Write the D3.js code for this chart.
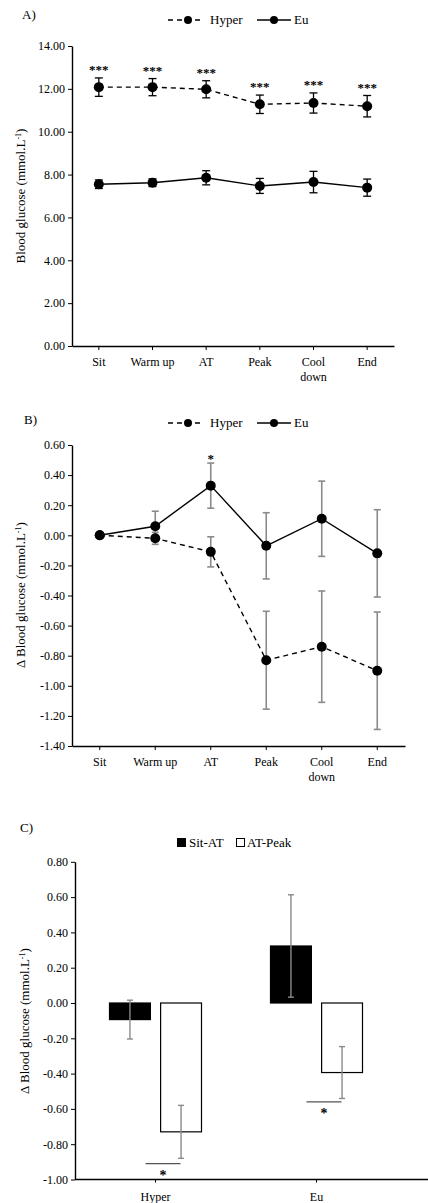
<!DOCTYPE html>
<html>
<head>
<meta charset="utf-8">
<script src="https://cdn.jsdelivr.net/npm/d3@7"></script>
<style>
body { margin: 0; background: #fff; }
svg { display: block; font-family: "Liberation Serif", "DejaVu Serif", serif; }
text { font-family: "Liberation Serif", "DejaVu Serif", serif; fill: #000; }
</style>
</head>
<body>
<div id="chart"></div>
<script>
// stages of the exercise test
var stages = ["Sit", "Warm up", "AT", "Peak", "Cool down", "End"];
var stageLines = [["Sit"], ["Warm up"], ["AT"], ["Peak"], ["Cool", "down"], ["End"]];

// A) blood glucose, mmol/L
var hyperA = [12.08, 12.08, 11.98, 11.28, 11.34, 11.19];
var hyperAErr = [0.43, 0.40, 0.40, 0.43, 0.47, 0.50];
var euA = [7.55, 7.62, 7.85, 7.47, 7.65, 7.39];
var euAErr = [0.20, 0.18, 0.33, 0.35, 0.50, 0.40];
var starsA = ["***", "***", "***", "***", "***", "***"];
var ticksA = [0, 2, 4, 6, 8, 10, 12, 14];

// B) change in blood glucose from sit
var hyperB = [0, -0.02, -0.11, -0.83, -0.74, -0.90];
var hyperBErr = [0, 0.04, 0.10, 0.325, 0.37, 0.39];
var euB = [0, 0.06, 0.33, -0.07, 0.11, -0.12];
var euBErr = [0, 0.10, 0.15, 0.22, 0.25, 0.29];
var starsB = ["", "", "*", "", "", ""];
var ticksB = [-1.4, -1.2, -1.0, -0.8, -0.6, -0.4, -0.2, 0, 0.2, 0.4, 0.6];

// C) change per phase
var groups = ["Hyper", "Eu"];
var phases = ["Sit-AT", "AT-Peak"];
var sitAT = [-0.094, 0.323];
var sitATErr = [0.11, 0.29];
var atPeak = [-0.73, -0.394];
var atPeakErr = [0.15, 0.147];
var sigLevelC = [-0.91, -0.56];
var ticksC = [-1.0, -0.8, -0.6, -0.4, -0.2, 0, 0.2, 0.4, 0.6, 0.8];

var W = 428, H = 1203;
var svg = d3.select("#chart").append("svg")
    .attr("width", W)
    .attr("height", H);

var fmt = function(d) { return d.toFixed(2); };

function yLabel(x, y, txt) {
    var t = svg.append("text")
        .attr("transform", "translate(" + x + "," + y + ") rotate(-90)")
        .attr("text-anchor", "middle")
        .attr("dy", "0.35em")
        .style("font-size", "13px");
    t.append("tspan").text(txt + " (mmol.L");
    t.append("tspan").attr("baseline-shift", "super").style("font-size", "8px").text("-1");
    t.append("tspan").text(")");
}

function lineLegend(y) {
    var g = svg.append("g");
    g.append("line").attr("x1", 168).attr("x2", 203).attr("y1", y).attr("y2", y)
        .attr("stroke", "#000").attr("stroke-width", 1.5).attr("stroke-dasharray", "5,4");
    g.append("circle").attr("cx", 188).attr("cy", y).attr("r", 4);
    g.append("text").attr("x", 210).attr("y", y + 4).style("font-size", "13px").text("Hyper");
    g.append("line").attr("x1", 257).attr("x2", 291).attr("y1", y).attr("y2", y)
        .attr("stroke", "#000").attr("stroke-width", 1.5);
    g.append("circle").attr("cx", 274).attr("cy", y).attr("r", 4);
    g.append("text").attr("x", 294).attr("y", y + 4).style("font-size", "13px").text("Eu");
}

function linePanel(p) {
    var x = d3.scaleBand().domain(stages).range([p.x0, p.x1]);
    var y = d3.scaleLinear().domain([p.ticks[0], p.ticks[p.ticks.length - 1]]).range([p.yb, p.yt]);
    var cx = function(i) { return x(stages[i]) + x.bandwidth() / 2; };

    // y axis
    var ya = svg.append("g")
        .attr("transform", "translate(" + p.x0 + ",0)")
        .call(d3.axisLeft(y).tickValues(p.ticks).tickFormat(fmt).tickSize(4).tickSizeOuter(0));
    ya.attr("font-family", null).attr("font-size", null);
    ya.selectAll("text").style("font-size", "12px");
    ya.select(".domain").attr("stroke-width", 1.4);

    // x axis
    var xa = svg.append("g")
        .attr("transform", "translate(0," + p.yb + ")")
        .call(d3.axisBottom(x).tickSize(4).tickSizeOuter(0).tickFormat(""));
    xa.select(".domain").attr("stroke-width", 1.4);
    stageLines.forEach(function(lines, i) {
        lines.forEach(function(s, k) {
            svg.append("text")
                .attr("x", cx(i))
                .attr("y", p.yb + 20 + k * 15)
                .attr("text-anchor", "middle")
                .style("font-size", "12px")
                .text(s);
        });
    });

    var series = [
        {v: p.hyper, e: p.hyperErr, dash: "5,4"},
        {v: p.eu, e: p.euErr, dash: null}
    ];

    // error bars first
    series.forEach(function(s) {
        var eb = svg.append("g").attr("stroke", p.errColor).attr("stroke-width", p.errWidth);
        s.v.forEach(function(v, i) {
            if (s.e[i] == 0) return;
            eb.append("line").attr("x1", cx(i)).attr("x2", cx(i))
                .attr("y1", y(v + s.e[i])).attr("y2", y(v - s.e[i]));
            [v + s.e[i], v - s.e[i]].forEach(function(c) {
                eb.append("line").attr("x1", cx(i) - p.cap).attr("x2", cx(i) + p.cap)
                    .attr("y1", y(c)).attr("y2", y(c));
            });
        });
    });

    series.forEach(function(s) {
        var line = d3.line()
            .x(function(d, i) { return cx(i); })
            .y(function(d) { return y(d); });
        svg.append("path")
            .datum(s.v)
            .attr("d", line)
            .attr("fill", "none")
            .attr("stroke", "#000")
            .attr("stroke-width", 1.4)
            .attr("stroke-dasharray", s.dash);
        svg.selectAll(null)
            .data(s.v)
            .enter()
            .append("circle")
            .attr("cx", function(d, i) { return cx(i); })
            .attr("cy", function(d) { return y(d); })
            .attr("r", 5)
            .attr("fill", "#000");
    });

    // significance stars above the top error bar
    p.stars.forEach(function(s, i) {
        if (!s) return;
        var top = Math.max(p.hyper[i] + p.hyperErr[i], p.eu[i] + p.euErr[i]);
        svg.append("text")
            .attr("x", cx(i))
            .attr("y", y(top) - p.starGap)
            .attr("text-anchor", "middle")
            .style("font-size", "13px")
            .style("font-weight", "bold")
            .text(s);
    });
}

// ---------- A ----------
svg.append("text").attr("x", 22).attr("y", 19).style("font-size", "13px").text("A)");
lineLegend(20);
yLabel(20, 196, "Blood glucose");
linePanel({
    x0: 72, x1: 394, yt: 46, yb: 346, ticks: ticksA,
    hyper: hyperA, hyperErr: hyperAErr, eu: euA, euErr: euAErr, stars: starsA,
    errColor: "#000", errWidth: 1.3, cap: 4, starGap: 4
});

// ---------- B ----------
svg.append("text").attr("x", 24).attr("y", 424).style("font-size", "13px").text("B)");
lineLegend(423);
yLabel(20, 595, "\u0394 Blood glucose");
linePanel({
    x0: 72, x1: 405, yt: 445, yb: 746, ticks: ticksB,
    hyper: hyperB, hyperErr: hyperBErr, eu: euB, euErr: euBErr, stars: starsB,
    errColor: "#8a8a8a", errWidth: 1.6, cap: 3.5, starGap: 0
});

// ---------- C ----------
svg.append("text").attr("x", 20).attr("y", 832).style("font-size", "13px").text("C)");
yLabel(24, 1021, "\u0394 Blood glucose");

var xC = d3.scaleBand().domain(groups).range([75, 397]);
var xP = d3.scaleBand().domain(phases).range([-46, 46]).paddingInner(0.2);
var yC = d3.scaleLinear().domain([-1, 0.8]).range([1179.5, 861.8]);
var gx = function(i) { return xC(groups[i]) + xC.bandwidth() / 2; };

// legend
svg.append("rect").attr("x", 177).attr("y", 838).attr("width", 9).attr("height", 9).attr("fill", "#000");
svg.append("text").attr("x", 189).attr("y", 847).style("font-size", "13px").text(phases[0]);
svg.append("rect").attr("x", 236.5).attr("y", 838.5).attr("width", 8).attr("height", 8)
    .attr("fill", "#fff").attr("stroke", "#000");
svg.append("text").attr("x", 247).attr("y", 847).style("font-size", "13px").text(phases[1]);

var yaC = svg.append("g")
    .attr("transform", "translate(75,0)")
    .call(d3.axisLeft(yC).tickValues(ticksC).tickFormat(fmt).tickSize(4).tickSizeOuter(0));
yaC.attr("font-family", null).attr("font-size", null);
yaC.selectAll("text").style("font-size", "12px");
yaC.select(".domain").attr("stroke-width", 1.4);

var xaC = svg.append("g")
    .attr("transform", "translate(0," + yC(-1) + ")")
    .call(d3.axisBottom(xC).tickSize(3).tickSizeOuter(0).tickFormat(""));
xaC.select(".domain").remove();
xaC.append("line").attr("x1", 75).attr("x2", W).attr("stroke", "#000").attr("stroke-width", 1.4);
groups.forEach(function(g, i) {
    svg.append("text").attr("x", gx(i)).attr("y", 1201)
        .attr("text-anchor", "middle").style("font-size", "12px").text(g);
});

var barsC = [
    {v: sitAT, e: sitATErr, fill: "#000"},
    {v: atPeak, e: atPeakErr, fill: "#fff"}
];
barsC.forEach(function(b, k) {
    b.v.forEach(function(v, i) {
        var bx = gx(i) + xP(phases[k]);
        svg.append("rect")
            .attr("x", bx)
            .attr("y", yC(Math.max(v, 0)))
            .attr("width", xP.bandwidth())
            .attr("height", Math.abs(yC(v) - yC(0)))
            .attr("fill", b.fill)
            .attr("stroke", "#000")
            .attr("stroke-width", 1.2);
    });
});
barsC.forEach(function(b, k) {
    b.v.forEach(function(v, i) {
        var c = gx(i) + xP(phases[k]) + xP.bandwidth() / 2;
        var eb = svg.append("g").attr("stroke", "#8a8a8a").attr("stroke-width", 1.4);
        eb.append("line").attr("x1", c).attr("x2", c).attr("y1", yC(v + b.e[i])).attr("y2", yC(v - b.e[i]));
        [v + b.e[i], v - b.e[i]].forEach(function(t) {
            eb.append("line").attr("x1", c - 3).attr("x2", c + 3).attr("y1", yC(t)).attr("y2", yC(t));
        });
    });
});

// significance line + star under each group
sigLevelC.forEach(function(s, i) {
    svg.append("line")
        .attr("x1", gx(i) - 10).attr("x2", gx(i) + 25)
        .attr("y1", yC(s)).attr("y2", yC(s))
        .attr("stroke", "#555").attr("stroke-width", 1.4);
    svg.append("text")
        .attr("x", gx(i) + 7.5)
        .attr("y", yC(s) + 16)
        .attr("text-anchor", "middle")
        .style("font-size", "14px")
        .style("font-weight", "bold")
        .text("*");
});
</script>
</body>
</html>
